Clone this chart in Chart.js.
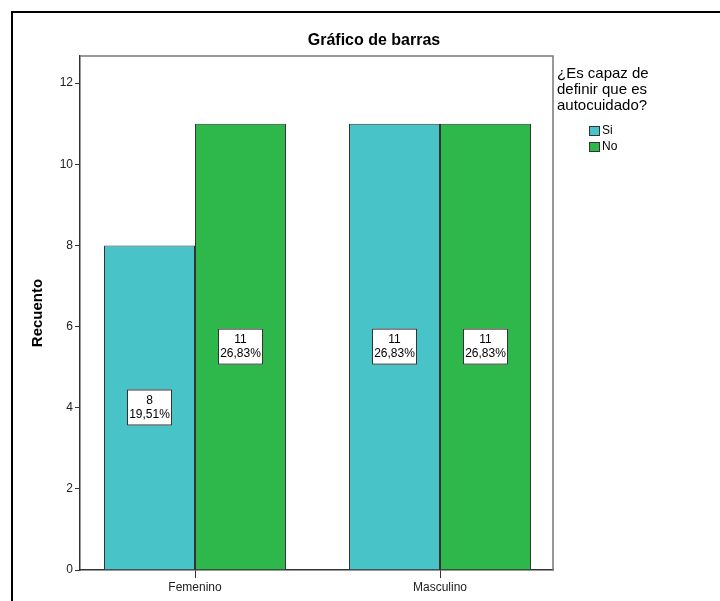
<!DOCTYPE html>
<html>
<head>
<meta charset="utf-8">
<title>Gráfico de barras</title>
<script src="https://cdn.jsdelivr.net/npm/chart.js@4/dist/chart.umd.min.js"></script>
<style>
    html, body { margin: 0; padding: 0; background: #ffffff; }
    #wrap { position: relative; width: 720px; height: 601px; }
</style>
</head>
<body>
<div id="wrap"><canvas id="barChart" width="720" height="601"></canvas></div>
<script>
var categories = ['Femenino', 'Masculino'];
var seriesNames = ['Si', 'No'];
var siValues = [8, 11];
var noValues = [11, 11];
var yTicks = [0, 2, 4, 6, 8, 10, 12];

var chartTitle = 'Gráfico de barras';
var yTitle = 'Recuento';
var legendTitle = ['¿Es capaz de', 'definir que es', 'autocuidado?'];

var siColor = '#48c3c7';
var noColor = '#2eb84b';
var FONT = '"Liberation Sans", Arial, sans-serif';

document.addEventListener('DOMContentLoaded', function() {
    buildBarChart();
});

function formatPercent(value, total) {
    return (value / total * 100).toFixed(2).replace('.', ',') + '%';
}

function toPoints(values) {
    return values.map(function(v, i) { return { x: i, y: v }; });
}

var decorPlugin = {
    id: 'decor',
    afterDraw: function(chart) {
        var ctx = chart.ctx;
        var area = chart.chartArea;
        ctx.save();

        // outer frame
        ctx.strokeStyle = '#000000';
        ctx.lineWidth = 2;
        ctx.beginPath();
        ctx.moveTo(12, 601);
        ctx.lineTo(12, 12);
        ctx.lineTo(720, 12);
        ctx.stroke();

        // plot box
        ctx.strokeStyle = '#777777';
        ctx.lineWidth = 1.5;
        ctx.beginPath();
        ctx.moveTo(area.left, area.top);
        ctx.lineTo(area.right, area.top);
        ctx.lineTo(area.right, area.bottom);
        ctx.stroke();

        // title
        ctx.fillStyle = '#000000';
        ctx.font = 'bold 16px ' + FONT;
        ctx.textAlign = 'center';
        ctx.textBaseline = 'middle';
        ctx.fillText(chartTitle, 374, 41);

        // y axis title
        ctx.save();
        ctx.translate(38, 313);
        ctx.rotate(-Math.PI / 2);
        ctx.font = 'bold 15px ' + FONT;
        ctx.fillText(yTitle, 0, 0);
        ctx.restore();

        // value labels
        var total = 0;
        chart.data.datasets.forEach(function(ds) {
            ds.data.forEach(function(p) { total += p.y; });
        });
        ctx.font = '12px ' + FONT;
        chart.data.datasets.forEach(function(ds, di) {
            var meta = chart.getDatasetMeta(di);
            meta.data.forEach(function(bar, i) {
                var v = ds.data[i].y;
                var cy = (bar.y + bar.base) / 2;
                var w = 45, h = 36;
                ctx.fillStyle = '#ffffff';
                ctx.fillRect(bar.x - w / 2, cy - h / 2, w, h);
                ctx.strokeStyle = '#333333';
                ctx.lineWidth = 1;
                ctx.strokeRect(bar.x - w / 2 + 0.5, cy - h / 2 + 0.5, w - 1, h - 1);
                ctx.fillStyle = '#000000';
                ctx.fillText(String(v), bar.x, cy - 7);
                ctx.fillText(formatPercent(v, total), bar.x, cy + 7);
            });
        });

        // legend
        ctx.textAlign = 'left';
        ctx.font = '15px ' + FONT;
        legendTitle.forEach(function(line, i) {
            ctx.fillText(line, 557, 74 + i * 16);
        });
        ctx.font = '12px ' + FONT;
        chart.data.datasets.forEach(function(ds, di) {
            var y = 126 + di * 16;
            ctx.fillStyle = ds.backgroundColor;
            ctx.fillRect(589, y, 11, 10);
            ctx.strokeStyle = '#333333';
            ctx.strokeRect(589.5, y + 0.5, 10, 9);
            ctx.fillStyle = '#000000';
            ctx.fillText(ds.label, 602, y + 5);
        });

        ctx.restore();
    }
};

function buildBarChart() {
    var ctx = document.getElementById('barChart').getContext('2d');
    new Chart(ctx, {
        type: 'bar',
        data: {
            datasets: [{
                label: seriesNames[0],
                data: toPoints(siValues),
                backgroundColor: siColor,
                borderColor: '#333333',
                borderWidth: 1
            }, {
                label: seriesNames[1],
                data: toPoints(noValues),
                backgroundColor: noColor,
                borderColor: '#333333',
                borderWidth: 1
            }]
        },
        options: {
            responsive: false,
            animation: false,
            devicePixelRatio: 1,
            layout: {
                padding: { left: 0, top: 56, right: 167, bottom: 0 }
            },
            datasets: {
                bar: {
                    categoryPercentage: 0.743,
                    barPercentage: 1.0
                }
            },
            plugins: {
                legend: { display: false },
                title: { display: false },
                tooltip: { enabled: false }
            },
            scales: {
                y: {
                    min: 0,
                    max: 12.67,
                    afterFit: function(scale) { scale.width = 80; },
                    afterBuildTicks: function(scale) {
                        scale.ticks = yTicks.map(function(v) { return { value: v }; });
                    },
                    ticks: {
                        color: '#222222',
                        padding: 2,
                        font: { family: FONT, size: 12 }
                    },
                    grid: {
                        drawOnChartArea: false,
                        drawTicks: true,
                        tickLength: 5,
                        color: '#333333'
                    },
                    border: { color: '#333333', width: 1.5 }
                },
                x: {
                    type: 'linear',
                    min: -0.4694,
                    max: 1.4612,
                    offset: false,
                    afterFit: function(scale) { scale.height = 31; },
                    afterBuildTicks: function(scale) {
                        scale.ticks = categories.map(function(c, i) { return { value: i }; });
                    },
                    ticks: {
                        color: '#222222',
                        padding: 2,
                        font: { family: FONT, size: 12 },
                        callback: function(value) { return categories[value]; }
                    },
                    grid: {
                        offset: false,
                        drawOnChartArea: false,
                        drawTicks: true,
                        tickLength: 8,
                        color: '#333333'
                    },
                    border: { color: '#333333', width: 1.5 }
                }
            }
        },
        plugins: [decorPlugin]
    });
}
</script>
</body>
</html>
